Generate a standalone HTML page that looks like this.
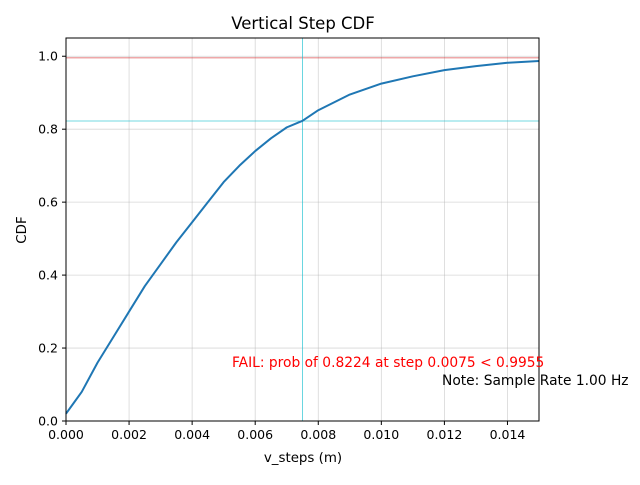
<!DOCTYPE html>
<html><head><meta charset="utf-8"><style>
body{margin:0;background:#fff}
svg text{font-family:"DejaVu Sans","Liberation Sans",sans-serif}
</style></head><body>
<svg id="chart" width="640" height="480" xmlns="http://www.w3.org/2000/svg">
<rect width="640" height="480" fill="#fff"/>
<text x="303" y="29" font-size="16.5" text-anchor="middle">Vertical Step CDF</text>
<g id="grid"></g><g id="ticks"></g><g id="marks"></g>
<rect x="66" y="38" width="473" height="383" fill="none" stroke="#000" stroke-width="1"/>
<text x="303" y="462" font-size="13.4" text-anchor="middle">v_steps (m)</text>
<text x="26" y="230" font-size="13.4" text-anchor="middle" transform="rotate(-90 26 230)">CDF</text>
<text x="232" y="367" font-size="13.8" fill="#ff0000">FAIL: prob of 0.8224 at step 0.0075 &lt; 0.9955</text>
<text x="442" y="385" font-size="13.8" fill="#000">Note: Sample Rate 1.00 Hz</text>
</svg>
<script>
const xTicks=[0,0.002,0.004,0.006,0.008,0.010,0.012,0.014];
const xTickLabels=["0.000","0.002","0.004","0.006","0.008","0.010","0.012","0.014"];
const yTicks=[0,0.2,0.4,0.6,0.8,1.0];
const yTickLabels=["0.0","0.2","0.4","0.6","0.8","1.0"];
const stepX=[0,0.00025,0.0005,0.001,0.0015,0.002,0.0025,0.003,0.0035,0.004,0.0045,0.005,0.0055,0.006,0.0065,0.007,0.0075,0.008,0.009,0.010,0.011,0.012,0.013,0.014,0.015];
const cdfY=[0.02,0.05,0.08,0.16,0.23,0.30,0.37,0.43,0.49,0.545,0.60,0.655,0.70,0.74,0.775,0.805,0.823,0.852,0.895,0.925,0.945,0.962,0.973,0.982,0.987];
const threshold=0.9955, failProb=0.8224, failStep=0.0075;
const NS="http://www.w3.org/2000/svg";
const X=v=>66+v/0.015*473, Y=v=>421-v/1.05*383;
function mk(tag,attrs,parent){const e=document.createElementNS(NS,tag);for(const k in attrs)e.setAttribute(k,attrs[k]);document.getElementById(parent).appendChild(e);return e;}
xTicks.forEach((t,i)=>{
 const g=mk('line',{x1:X(t),x2:X(t),y1:38,y2:421,stroke:'#b0b0b0','stroke-width':0.8,'stroke-opacity':0.5},'grid');
 
 
 const tk=mk('line',{x1:X(t),x2:X(t),y1:421,y2:425,stroke:'#000'},'ticks');
 
 
 const tx=mk('text',{x:X(t),y:439,'font-size':12.5,'text-anchor':'middle'},'ticks');tx.textContent=xTickLabels[i];
 
 
});
yTicks.forEach((t,i)=>{
 const g=mk('line',{x1:66,x2:539,y1:Y(t),y2:Y(t),stroke:'#b0b0b0','stroke-width':0.8,'stroke-opacity':0.5},'grid');
 
 
 const tk=mk('line',{x1:62,x2:66,y1:Y(t),y2:Y(t),stroke:'#000'},'ticks');
 
 
 const tx=mk('text',{x:58,y:Y(t)+4.5,'font-size':12.5,'text-anchor':'end'},'ticks');tx.textContent=yTickLabels[i];
 
 
});
const th=mk('line',{x1:66,x2:539,y1:Y(threshold),y2:Y(threshold),stroke:'#d62728','stroke-width':0.8,'stroke-opacity':0.8},'marks');


const hp=mk('line',{x1:66,x2:539,y1:Y(failProb),y2:Y(failProb),stroke:'#17becf','stroke-width':0.8,'stroke-opacity':0.8},'marks');


const vs=mk('line',{x1:X(failStep),x2:X(failStep),y1:38,y2:421,stroke:'#17becf','stroke-width':0.8,'stroke-opacity':0.8},'marks');


let d='M'+X(stepX[0])+' '+Y(cdfY[0]);
for(let i=1;i<stepX.length;i++)d+=' L'+X(stepX[i])+' '+Y(cdfY[i]);
const p=mk('path',{d:d,fill:'none',stroke:'#1f77b4','stroke-width':2,'stroke-linejoin':'round'},'marks');


</script>
</body></html>
